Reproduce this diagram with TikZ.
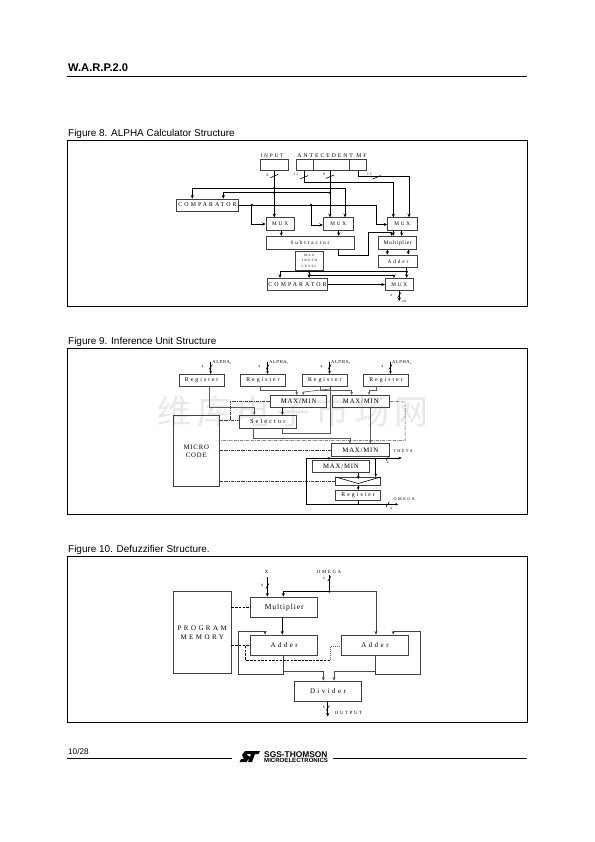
\documentclass[tikz,border=0pt]{standalone}
\usepackage{fontspec}
\setmainfont{Liberation Serif}
\setsansfont{Liberation Sans}
\newfontfamily\cjk{Noto Sans CJK SC}
\newfontfamily\spacedrm[LetterSpace=35]{Liberation Serif}
\newfontfamily\looserm[LetterSpace=12]{Liberation Serif}
\usetikzlibrary{calc, arrows.meta}
\tikzset{
  blk/.style={draw=black!75, line width=0.8pt, inner sep=0pt},
  conn/.style={line width=0.85pt, -{Stealth[length=3.6bp,width=3.2bp]}},
  wire/.style={line width=0.85pt},
  thinconn/.style={black!65, line width=0.6pt, -{Stealth[length=3bp,width=2.6bp]}},
  thinwire/.style={black!65, line width=0.6pt},
  ctrl/.style={black!75, line width=0.5pt, dash pattern=on 3pt off 1pt on 0.7pt off 1pt},
  frame/.style={draw, line width=0.7pt},
  caption/.style={anchor=west, inner sep=0pt, font=\sffamily\fontsize{10}{11}\selectfont},
  lbl/.style={inner sep=0pt, font=\spacedrm\fontsize{5.3}{6}\selectfont},
  mid/.style={inner sep=0pt, align=center, font=\looserm\fontsize{6.8}{8}\selectfont},
  wide/.style={inner sep=0pt, align=center, font=\spacedrm\fontsize{7}{9}\selectfont},
  tiny/.style={inner sep=0pt, font=\fontsize{3.6}{4}\selectfont},
  tick/.pic={\draw[line width=0.6pt] (-4,1.7) -- (4,-1.7);},
  steep/.pic={\draw[line width=0.6pt] (-1.6,2.4) -- (1.6,-2.4);},
}
\begin{document}
\begin{tikzpicture}[x=1bp, y=-1bp]
  \useasboundingbox (0,0) rectangle (595,842);

  % page
  \node[anchor=west, inner sep=0pt, font=\sffamily\bfseries\fontsize{11.2}{12}\selectfont] (header) at (68,67.5) {W.A.R.P.2.0};
  \draw[line width=0.6pt] (67,76.5) coordinate (hl) -- (527,76.5) coordinate (hr);
  \node[caption] (cap8) at (68,133.5) {Figure 8. ALPHA Calculator Structure};
  \node[caption] (cap9) at (68,341.5) {Figure 9. Inference Unit Structure};
  \node[caption] (cap10) at (68,549.5) {Figure 10. Defuzzifier Structure.};
  \draw[frame] (67,140.5) rectangle (527,306.5);
  \draw[frame] (67,348.5) rectangle (527,514.5);
  \draw[frame] (67,556.5) rectangle (527,722.5);

  % watermark
  \node[inner sep=0pt, black!9, font=\cjk\fontsize{34}{36}\selectfont] (mark) at (293,412) {维\,库\,电\,子\,市\,场\,网};

  % Figure 8
  \node[blk, minimum width=28.4bp, minimum height=11.3bp] (input) at (274.5,164.7) {};
  \node[blk, minimum width=17bp, minimum height=11.3bp] (antea) at (305.2,164.7) {};
  \node[blk, minimum width=35.6bp, minimum height=11.3bp] (anteb) at (331.5,164.7) {};
  \node[blk, minimum width=17.4bp, minimum height=11.3bp] (antec) at (358,164.7) {};
  \node[lbl] (inputl) at (272,155.3) {INPUT};
  \node[lbl, font=\spacedrm\fontsize{5.7}{6}\selectfont] (antel) at (332,155.3) {ANTECEDENT MF};
  \node[blk, lbl, font=\spacedrm\fontsize{5.9}{6}\selectfont, minimum width=61.6bp, minimum height=12bp] (compa) at (207.5,205) {COMPARATOR};
  \node[blk, lbl, minimum width=28.3bp, minimum height=12.6bp] (muxa) at (280.2,224) {MUX};
  \node[blk, lbl, minimum width=30bp, minimum height=12.6bp] (muxb) at (338.3,224) {MUX};
  \node[blk, lbl, minimum width=29.3bp, minimum height=12.6bp] (muxc) at (402.3,224) {MUX};
  \node[blk, lbl, minimum width=88bp, minimum height=12.7bp] (sub) at (310,242.7) {Subtractor};
  \node[blk, lbl, font=\looserm\fontsize{5.5}{6}\selectfont, minimum width=38bp, minimum height=13bp] (mulb) at (397.7,242.8) {Multiplier};
  \node[blk, lbl, minimum width=38.6bp, minimum height=12.7bp] (addb) at (398,261.3) {Adder};
  \node[blk, minimum width=28.3bp, minimum height=18.3bp, align=center, inner sep=0pt, font=\spacedrm\fontsize{3.3}{5.2}\selectfont] (truth) at (309.2,260.8) {MAX\\TRUTH\\LEVEL};
  \node[blk, lbl, font=\spacedrm\fontsize{5.9}{6}\selectfont, minimum width=60.4bp, minimum height=12.4bp] (compb) at (297.5,284.5) {COMPARATOR};
  \node[blk, lbl, minimum width=28bp, minimum height=12.4bp] (muxd) at (399.3,284.5) {MUX};

  \draw[conn] (input.south -| 274.3,0) -- (muxa.north -| 274.3,0);
  \draw[conn] (anteb.south -| 330,0) -- (muxb.north -| 330,0);
  \draw[conn] (antea.south -| 304,0) -- (304,182.3) -- (393.3,182.3) -- (muxc.north -| 393.3,0);
  \draw[conn] (antec.south -| 358,0) -- (358,176.7) -- (409,176.7) -- (muxc.north -| 409,0);
  \draw[conn] (345,188.3) -- (192.3,188.3) -- (compa.north -| 192.3,0);
  \draw[conn] (345,188.3) -- (muxb.north -| 345,0);
  \draw[conn] (330,192.7) -- (223.3,192.7) -- (compa.north -| 223.3,0);
  \draw[conn] (compa.east) -- (376.7,205) -- (376.7,224.5) -- (muxc.west |- 0,224.5);
  \draw[conn] (251.7,205) -- (251.7,224) -- (muxa.west);
  \draw[conn] (311,205) -- (311,225) -- (muxb.west |- 0,225);
  \draw[conn] (muxa.south -| 281.3,0) -- (sub.north -| 281.3,0);
  \draw[conn] (muxb.south -| 338.7,0) -- (sub.north -| 338.7,0);
  \draw[conn] (muxc.south -| 393.3,0) -- (mulb.north -| 393.3,0);
  \draw[conn] (muxc.south -| 401.7,0) -- (mulb.north -| 401.7,0);
  \draw[conn] (sub.south -| 338.7,0) -- (338.7,255) -- (368.3,255) -- (368.3,232.3) -- (391.7,232.3) -- (mulb.north -| 391.7,0);
  \draw[conn] (mulb.south -| 387.3,0) -- (addb.north -| 387.3,0);
  \draw[conn] (mulb.south -| 408.3,0) -- (addb.north -| 408.3,0);
  \draw[conn] (addb.south -| 406.7,0) -- (muxd.north -| 406.7,0);
  \draw[conn] (truth.south) -- (compb.north -| truth.south);
  \draw[conn] (406.7,271.7) -- (280,271.7) -- (compb.north -| 280,0);
  \draw[conn] (309.3,275.7) -- (394,275.7) -- (muxd.north -| 394,0);
  \draw[conn] (compb.east) -- (muxd.west);
  \coordinate (alphaend) at (399.3,301);
  \draw[conn] (muxd.south -| alphaend) -- (alphaend);
  \foreach \jx/\jy in {274.3/188.3, 274.3/192.7, 330/192.7, 251.7/205, 311/205, 309.3/271.7, 309.3/275.7, 406.7/271.7}
    \fill (\jx,\jy) circle (1.4);
  \pic at (274.3,176) {tick};
  \pic at (330,176.7) {tick};
  \pic at (304,177.3) {tick};
  \pic at (376.7,177.3) {tick};
  \pic at (399.3,295) {steep};
  \node[tiny] (n8a) at (267.5,175) {8};
  \node[tiny] (n8b) at (324,174.5) {8};
  \node[tiny] (n12a) at (296,174.3) {1 2};
  \node[tiny] (n12b) at (369.3,174.3) {1 2};
  \node[tiny] (n4a) at (391,295) {4};
  \node[tiny] (alpha) at (404.3,301) {$\alpha$};

  % Figure 9
  \node[blk, lbl, font=\spacedrm\fontsize{5.8}{6}\selectfont, minimum width=45.3bp, minimum height=12bp] (rega) at (201.7,380) {Register};
  \node[blk, lbl, font=\spacedrm\fontsize{5.8}{6}\selectfont, minimum width=45.4bp, minimum height=12bp] (regb) at (263,380) {Register};
  \node[blk, lbl, font=\spacedrm\fontsize{5.8}{6}\selectfont, minimum width=45bp, minimum height=12bp] (regc) at (324.8,380) {Register};
  \node[blk, lbl, font=\spacedrm\fontsize{5.8}{6}\selectfont, minimum width=45.4bp, minimum height=12bp] (regd) at (386,380) {Register};
  \node[blk, mid, minimum width=56bp, minimum height=12bp] (mma) at (298.7,401.3) {MAX/MIN};
  \node[blk, mid, minimum width=57.7bp, minimum height=12bp] (mmb) at (360.8,401.3) {MAX/MIN};
  \node[blk, mid, font=\spacedrm\fontsize{6.2}{7}\selectfont, minimum width=57.3bp, minimum height=13bp] (sel) at (267.7,421.8) {Selector};
  \node[blk, mid, minimum width=46bp, minimum height=71bp] (micro) at (196.3,450.8) {MICRO\\CODE};
  \node[blk, mid, minimum width=57.3bp, minimum height=12.6bp] (mmc) at (360.3,450) {MAX/MIN};
  \node[blk, mid, minimum width=57.4bp, minimum height=12.4bp] (mmd) at (341,466.5) {MAX/MIN};
  \node[blk, minimum width=45bp, minimum height=8bp] (swap) at (358.2,481.3) {};
  \node[blk, lbl, font=\spacedrm\fontsize{5.8}{6}\selectfont, minimum width=45bp, minimum height=9.7bp] (regf) at (358.2,495.2) {Register};
  \draw[line width=0.6pt] (swap.north west) -- (358.2,483.5) -- (swap.north east);

  \foreach \n/\cx in {1/210.7, 2/267.5, 3/329.5, 4/390.5} {
    \coordinate (in\n) at (\cx,362);
    \draw[thinconn, black] (in\n) -- (\cx,374);
    \pic at (\cx,367) {steep};
    \node[anchor=base west, inner sep=0pt, font=\looserm\fontsize{4.6}{5}\selectfont] (al\n) at (\cx+1.5,363.3) {ALPHA\raisebox{-0.8pt}{\fontsize{2.6}{3}\selectfont\n}};
    \node[tiny] (w\n) at (\cx-8.3,366.5) {4};
  }

  \draw[thinconn] (rega.south -| 209,0) -- (209,407) -- (254.3,407) -- (sel.north -| 254.3,0);
  \draw[thinconn] (regb.south -| 260,0) -- (260,390.3) -- (296.7,390.3) -- (mma.north -| 296.7,0);
  \draw[thinwire] (regc.south -| 330,0) -- (330,433) -- (282.3,433) -- (sel.south -| 282.3,0);
  \draw[thinconn] (330,389) -- (303.3,392) -- (mma.north -| 303.3,0);
  \draw[thinconn] (regc.south -| 320,0) -- (320,390.3) -- (351.7,390.3) -- (mmb.north -| 351.7,0);
  \draw[thinconn] (regd.south -| 376.7,0) -- (376.7,390.3) -- (369,390.3) -- (mmb.north -| 369,0);
  \draw[thinconn, black] (mma.south -| 282.3,0) -- (sel.north -| 282.3,0);
  \draw[thinconn] (mmb.south -| 370.3,0) -- (mmc.north -| 370.3,0);
  \draw[thinconn] (sel.south -| 253.3,0) -- (253.3,438.7) -- (350,438.7) -- (mmc.north -| 350,0);

  \draw[ctrl] (mmb.east) -- (405,402) -- (405,440.7) -- (micro.east |- 0,440.7);
  \draw[ctrl] (micro.east |- 0,450.3) -- (mmc.west |- 0,450.3);
  \draw[ctrl] (micro.east |- 0,481) -- (swap.west |- 0,481);
  \draw[ctrl] (mma.west |- 0,401) -- (230,401) -- (230,420.3);
  \draw[ctrl] (micro.east |- 0,420.3) -- (sel.west |- 0,420.3);

  \coordinate (thetaend) at (401.7,458);
  \coordinate (omegaend) at (398.3,504.3);
  \draw[thinconn, black] (306.7,458) -- (thetaend);
  \draw[thinconn, black] (306.7,458) -- (306.7,504.3) -- (omegaend);
  \draw[thinconn, black] (329,458) -- (mmd.north -| 329,0);
  \draw[thinconn, black] (375.7,458) -- (swap.north -| 375.7,0);
  \draw[thinconn, black] (mmd.south -| swap.center) -- (358.2,479);
  \draw[thinconn, black] (swap.south) -- (regf.north);
  \draw[thinwire, black] (regf.south) -- (358.2,504.3);
  \fill (358.2,504.3) circle (0.9);
  \pic at (387.7,458) {steep};
  \pic at (387.7,504.3) {steep};
  \node[inner sep=0pt, font=\spacedrm\fontsize{4.2}{4}\selectfont] (theta) at (403,451.3) {THETA};
  \node[inner sep=0pt, font=\spacedrm\fontsize{4.2}{4}\selectfont] (omega) at (404.3,498.7) {OMEGA};
  \node[tiny] (w5) at (387.7,462) {4};
  \node[tiny] (w6) at (391,508) {4};

  % Figure 10
  \node[blk, wide, minimum width=57.7bp, minimum height=81.6bp] (prog) at (202.2,632.5) {PROGRAM\\MEMORY};
  \node[blk, mid, font=\looserm\fontsize{7.6}{9}\selectfont, minimum width=67bp, minimum height=20.3bp] (mulc) at (284.2,607.2) {Multiplier};
  \node[blk, wide, minimum width=67bp, minimum height=20.7bp] (adda) at (284.2,645.4) {Adder};
  \node[blk, wide, minimum width=67.4bp, minimum height=20.7bp] (addc) at (375,645.4) {Adder};
  \node[blk, wide, minimum width=67.4bp, minimum height=20.3bp] (divd) at (328,691.2) {Divider};

  \coordinate (xin) at (267.3,577);
  \coordinate (omin) at (329.3,575);
  \coordinate (outend) at (327.7,716.5);
  \draw[conn] (xin) -- (mulc.north -| xin);
  \draw[wire] (omin) -- (329.3,591.7);
  \draw[conn] (329.3,591.7) -- (283.3,591.7) -- (mulc.north -| 283.3,0);
  \draw[conn, black!75] (329.3,591.7) -- (376,591.7) -- (addc.north -| 376,0);
  \fill (329.3,591.7) circle (1);
  \draw[conn] (mulc.south -| 282.3,0) -- (adda.north -| 282.3,0);
  \draw[conn, black!75] (adda.south -| 283.7,0) -- (283.7,674.3) -- (238.3,674.3) -- (238.3,631.7) -- (265,631.7) -- (adda.north -| 265,0);
  \draw[conn, black!70] (283.7,671) -- (323.3,671) -- (divd.north -| 323.3,0);
  \draw[conn, black!75] (addc.south -| 375,0) -- (375,674.3) -- (420,674.3) -- (420,631.7) -- (393.3,631.7) -- (addc.north -| 393.3,0);
  \draw[conn, black!70] (375,671) -- (334,671) -- (divd.north -| 334,0);
  \draw[conn] (divd.south -| outend) -- (outend);
  \draw[line width=0.6pt, dash pattern=on 2.5pt off 1.2pt] (prog.east |- mulc.west) -- (mulc.west);
  \draw[line width=0.6pt, dash pattern=on 2.5pt off 1.2pt] (prog.east |- adda.west) -- (adda.west);
  \draw[line width=0.6pt, dash pattern=on 2.5pt off 1.2pt] (245.7,646) -- (245.7,660) -- (330,660);
  \draw[black!60, line width=0.6pt, dash pattern=on 1pt off 1pt] (330,660) -- (330,646.7) -- (addc.west |- 0,646.7);
  \pic at (267.3,586) {steep};
  \pic at (329.3,578.7) {steep};
  \pic at (327.7,708) {steep};
  \node[inner sep=0pt, font=\looserm\fontsize{4.8}{5}\selectfont] (xl) at (266.7,571.7) {X};
  \node[inner sep=0pt, font=\spacedrm\fontsize{4.8}{5}\selectfont] (oml) at (329,571.7) {OMEGA};
  \node[inner sep=0pt, font=\spacedrm\fontsize{4.8}{5}\selectfont] (outl) at (348.5,712.7) {OUTPUT};
  \node[tiny] (n8c) at (262.3,585) {8};
  \node[tiny] (n4c) at (323.7,578.7) {4};
  \node[tiny] (n8d) at (323.7,707.3) {8};

  % footer
  \node[anchor=west, inner sep=0pt, font=\sffamily\fontsize{8.2}{9}\selectfont] (pageno) at (68,751.5) {10/28};
  \draw[line width=0.6pt] (67,758.5) coordinate (fa) -- (232,758.5) coordinate (fb);
  \draw[line width=0.6pt] (333,758.5) coordinate (fc) -- (527,758.5) coordinate (fd);
  \fill (245,751) -- (260,751) -- (258.5,754) -- (255,754) -- (252,762) -- (248,762) -- (251,754) -- (246,754) -- (250,757) -- (246.5,762) -- (239.5,762) -- (241,759) -- (244,759) -- (242,755) -- cycle;
  \node[anchor=west, inner sep=0pt, font=\sffamily\bfseries\fontsize{8.4}{9}\selectfont] (sgs) at (264,754.5) {SGS-THOMSON};
  \node[anchor=west, inner sep=0pt, font=\sffamily\bfseries\fontsize{6.1}{7}\selectfont] (st) at (264,760.8) {MICROELECTRONICS};
\end{tikzpicture}
\end{document}
